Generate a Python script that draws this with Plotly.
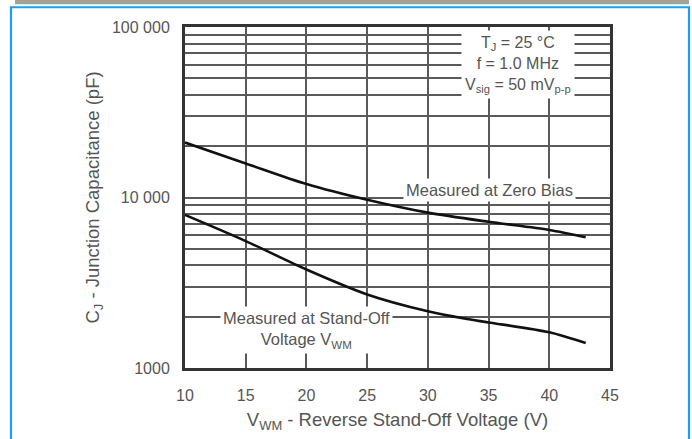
import plotly.graph_objects as go

# ---- data ----
zero_bias_v = [10, 15, 20, 25, 30, 35, 40, 43]
zero_bias_c = [21000, 15850, 12000, 9700, 8150, 7200, 6450, 5850]

standoff_v = [10, 15, 20, 25, 30, 33, 35, 40, 43]
standoff_c = [7900, 5550, 3780, 2700, 2150, 1950, 1850, 1620, 1400]

x_ticks = [10, 15, 20, 25, 30, 35, 40, 45]
y_ticks = [1000, 10000, 100000]
y_tick_text = ["1000", "10 000", "100 000"]
y_minor = [m * 10 ** e for e in (3, 4) for m in range(2, 10)]

W, H = 692, 439
L, R, T, B = 185, 82, 27, 67
PW, PH = W - L - R, H - T - B


def px(x):
    return (x - L) / PW


def py(y):
    return (H - B - y) / PH


TXT = "#555555"
GRID = "#5a5a5a"
FONT = "Arial, Liberation Sans, sans-serif"

fig = go.Figure()
fig.add_trace(go.Scatter(x=zero_bias_v, y=zero_bias_c, mode="lines",
                         line=dict(color="#111111", width=2.6, shape="spline", smoothing=0.8),
                         showlegend=False, hoverinfo="skip"))
fig.add_trace(go.Scatter(x=standoff_v, y=standoff_c, mode="lines",
                         line=dict(color="#111111", width=2.6, shape="spline", smoothing=0.8),
                         showlegend=False, hoverinfo="skip"))

fig.update_layout(
    width=W, height=H,
    margin=dict(l=L, r=R, t=T, b=B, pad=0),
    paper_bgcolor="white", plot_bgcolor="white",
    font=dict(family=FONT, size=16, color=TXT),
    xaxis=dict(range=[10, 45], tickvals=x_ticks, showgrid=True, gridcolor=GRID, gridwidth=1.8,
               showline=True, linecolor="#333333", linewidth=3, mirror=True,
               ticks="outside", ticklen=11, tickcolor="rgba(0,0,0,0)", zeroline=False,
               tickfont=dict(size=16, color=TXT),
               title=dict(text="V<sub>WM</sub> - Reverse Stand-Off Voltage (V)",
                          font=dict(size=18.5, color=TXT), standoff=10)),
    yaxis=dict(type="log", range=[3, 5], tickvals=y_ticks, ticktext=y_tick_text,
               showgrid=True, gridcolor=GRID, gridwidth=1.8,
               minor=dict(tickmode="array", tickvals=y_minor, showgrid=True,
                          gridcolor=GRID, gridwidth=1.6, ticks=""),
               showline=True, linecolor="#333333", linewidth=3, mirror=True,
               ticks="outside", ticklen=9, tickcolor="rgba(0,0,0,0)", zeroline=False,
               tickfont=dict(size=16, color=TXT),
               title=dict(text="C<sub>J</sub> - Junction Capacitance (pF)",
                          font=dict(size=18.5, color=TXT), standoff=8)),
)

# conditions box
fig.add_annotation(xref="paper", yref="paper", x=px(518), y=py(65), xanchor="center", yanchor="middle",
                   text="T<sub>J</sub> = 25 °C<br>f = 1.0 MHz<br>V<sub>sig</sub> = 50 mV<sub>p-p</sub>",
                   showarrow=False, bgcolor="white", borderpad=3, align="center",
                   font=dict(size=16, color=TXT))
fig.add_annotation(xref="paper", yref="paper", x=px(489), y=py(192), xanchor="center", yanchor="middle",
                   text="Measured at Zero Bias", showarrow=False, bgcolor="white", borderpad=2,
                   font=dict(size=16.5, color=TXT))
fig.add_annotation(xref="paper", yref="paper", x=px(306), y=py(334), xanchor="center", yanchor="middle",
                   text="Measured at Stand-Off<br>Voltage V<sub>WM</sub>", showarrow=False,
                   bgcolor="white", borderpad=2, align="center",
                   font=dict(size=16.5, color=TXT))

# page decoration: grey header bar and blue frame
fig.add_shape(type="rect", xref="paper", yref="paper", x0=px(15), x1=px(689), y0=py(4), y1=py(-6),
              fillcolor="#a0a0a0", line=dict(width=0), layer="above")
fig.add_shape(type="rect", xref="paper", yref="paper", x0=px(11), x1=px(689), y0=py(460), y1=py(7),
              fillcolor="rgba(0,0,0,0)", line=dict(color="#1a9cff", width=2.2), layer="above")

fig.write_html("out.html")
